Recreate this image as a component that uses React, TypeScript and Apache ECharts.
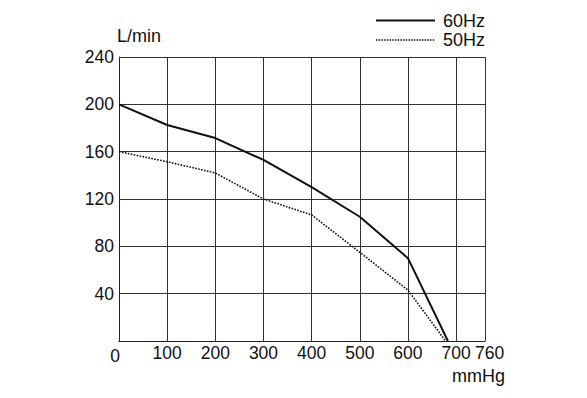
import React, { useEffect, useRef } from "react";
import * as echarts from "echarts";

const pressure60 = [0, 100, 200, 300, 400, 500, 600, 683];
const flow60 = [200, 182.5, 171.5, 153, 130, 105, 70, 0];
const pressure50 = [0, 100, 200, 300, 400, 500, 600, 678];
const flow50 = [160, 151.5, 142, 120, 106.5, 75, 43, 0];
const seriesNames = ["60Hz", "50Hz"];
const xName = "mmHg";
const yName = "L/min";

export default function App() {
  const ref = useRef<HTMLDivElement>(null);
  useEffect(() => {
    if (!ref.current) return;
    const chart = echarts.init(ref.current, null, { renderer: "svg" });
    const font = "'Liberation Sans', Arial, sans-serif";
    const ink = "#111";
    const legendRows = [
      { name: seriesNames[0], y: 20.5, dash: "solid" as any, width: 1.8 },
      { name: seriesNames[1], y: 40, dash: [1.5, 1.2] as any, width: 1.5 },
    ];
    chart.setOption({
      animation: false,
      backgroundColor: "#ffffff",
      textStyle: { fontFamily: font },
      grid: { left: 119, top: 57, right: 102, bottom: 57, containLabel: false },
      graphic: legendRows.flatMap((r) => [
        {
          type: "line",
          shape: { x1: 376, y1: r.y, x2: 435, y2: r.y },
          style: { stroke: ink, lineWidth: r.width, lineDash: r.dash === "solid" ? null : r.dash },
        },
        {
          type: "text",
          x: 443,
          y: r.y,
          style: { text: r.name, fill: ink, font: `18px ${font}`, textVerticalAlign: "middle", verticalAlign: "middle" },
        },
      ]),
      xAxis: {
        type: "value",
        min: 0,
        max: 760,
        interval: 100,
        name: xName,
        nameLocation: "end",
        nameGap: 20,
        nameTextStyle: { fontSize: 18, color: ink, align: "right", verticalAlign: "top", padding: [26, 0, 0, 0] },
        axisLine: { show: true, lineStyle: { color: "#222", width: 1 } },
        axisTick: { show: false },
        axisLabel: {
          fontSize: 17.5,
          color: ink,
          margin: 3,
          showMaxLabel: true,
          showMinLabel: true,
          formatter: (v: number) => (v === 0 ? "{z|0}" : v === 760 ? "{m|760}" : String(v)),
          rich: {
            z: { fontSize: 17.5, color: ink, padding: [3, 8, 0, 0] },
            m: { fontSize: 17.5, color: ink, width: 20, align: "left" },
          },
        },
        splitLine: { show: true, lineStyle: { color: "#333", width: 1 } },
      },
      yAxis: {
        type: "value",
        min: 0,
        max: 240,
        interval: 40,
        name: yName,
        nameLocation: "end",
        nameGap: 12,
        nameTextStyle: { fontSize: 18, color: ink, align: "left", padding: [0, 0, 0, -2] },
        axisLine: { show: true, lineStyle: { color: "#222", width: 1 } },
        axisTick: { show: false },
        axisLabel: {
          fontSize: 17.5,
          color: ink,
          margin: 5,
          formatter: (v: number) => (v === 0 ? "" : String(v)),
        },
        splitLine: { show: true, lineStyle: { color: "#333", width: 1 } },
      },
      series: [
        {
          name: seriesNames[0],
          type: "line",
          symbol: "none",
          data: pressure60.map((p, i) => [p, flow60[i]]),
          lineStyle: { color: ink, width: 2, type: "solid" },
          itemStyle: { color: ink },
        },
        {
          name: seriesNames[1],
          type: "line",
          symbol: "none",
          data: pressure50.map((p, i) => [p, flow50[i]]),
          lineStyle: { color: ink, width: 1.6, type: [1.6, 1.4] },
          itemStyle: { color: ink },
        },
      ],
    });
    return () => chart.dispose();
  }, []);
  return <div ref={ref} style={{ width: 587, height: 398, position: "absolute", left: 0, top: 0 }} />;
}
